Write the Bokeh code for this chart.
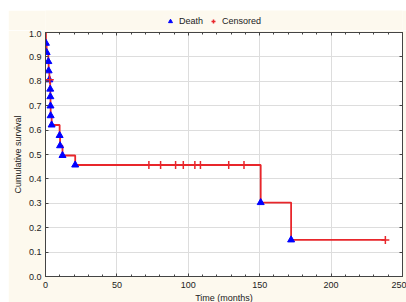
from bokeh.plotting import figure
from bokeh.layouts import column
from bokeh.models import (LinearAxis, Range1d, Legend, LegendItem, FixedTicker,
                          NumeralTickFormatter)
from bokeh.embed import file_html
from bokeh.resources import INLINE

# Kaplan-Meier data
death_t = [0.3, 0.8, 2.0, 2.2, 2.7, 3.3, 3.4, 3.5, 3.6, 4.3, 9.9, 10.2, 11.9, 20.8, 150.7, 172.0]
death_s = [0.956, 0.918, 0.881, 0.843, 0.806, 0.768, 0.737, 0.699, 0.659, 0.621, 0.578, 0.536, 0.496, 0.457, 0.303, 0.150]
cens_t = [3.0, 72.4, 80.6, 91.1, 96.5, 104.6, 108.5, 128.3, 139.0, 238.0]
cens_s = [0.806, 0.457, 0.457, 0.457, 0.457, 0.457, 0.457, 0.457, 0.457, 0.150]
end_t = 238.0

x_ticks = [0, 50, 100, 150, 200, 250]
y_ticks = [0.0, 0.1, 0.2, 0.3, 0.4, 0.5, 0.6, 0.7, 0.8, 0.9, 1.0]
legend_labels = ["Death", "Censored"]

BG = "#fdf9ee"
FONT = "Liberation Sans"
RED = "#e8262b"
BLUE = "#0000ff"
AX = "#444444"

step_x = [0.0] + death_t + [end_t]
step_y = [1.0] + death_s + [death_s[-1]]

# ---------- legend strip (its view range shows none of the data) ----------
lf = figure(width=398, height=20, output_backend="svg", toolbar_location=None,
            x_range=Range1d(1000, 1001), y_range=Range1d(1000, 1001), min_border=0)
lf.axis.visible = False
lf.grid.visible = False
lf.outline_line_color = None
lf.background_fill_color = BG
lf.border_fill_color = BG
ld = lf.scatter(death_t, death_s, marker="triangle", size=6, fill_color=BLUE, line_color=BLUE)
lc = lf.scatter(cens_t, cens_s, marker="cross", size=8, line_color=RED, line_width=1.5)
leg = Legend(items=[LegendItem(label=legend_labels[0], renderers=[ld]),
                    LegendItem(label=legend_labels[1], renderers=[lc])],
             orientation="horizontal", location=(118, 2),
             label_text_font=FONT, label_text_font_size="9px",
             label_text_color="#222222",
             background_fill_color=BG, border_line_alpha=0,
             glyph_width=10, glyph_height=10, spacing=5,
             label_standoff=4, padding=2, margin=0)
lf.add_layout(leg, "center")

# ---------- main chart ----------
p = figure(width=398, height=275, output_backend="svg", toolbar_location=None,
           x_range=Range1d(0, 250), y_range=Range1d(0, 1.0),
           min_border_left=37, min_border_right=4, min_border_top=2, min_border_bottom=25)
p.background_fill_color = "white"
p.border_fill_color = BG
p.outline_line_color = AX
p.outline_line_width = 1

p.step(step_x, step_y, mode="after", line_color=RED, line_width=1.8)
p.scatter(death_t, death_s, marker="triangle", size=7, fill_color=BLUE, line_color=BLUE)
p.scatter(cens_t, cens_s, marker="cross", size=8, line_color=RED, line_width=1.5)

for ax in (p.xaxis[0], p.yaxis[0]):
    ax.major_label_text_font = FONT
    ax.major_label_text_font_size = "9px"
    ax.major_label_text_color = "#222222"
    ax.axis_label_text_font = FONT
    ax.axis_label_text_font_size = "9px"
    ax.axis_label_text_font_style = "normal"
    ax.axis_label_text_color = "#222222"
    ax.axis_line_color = AX
    ax.major_tick_line_color = AX
    ax.minor_tick_line_color = AX
    ax.major_tick_in = 3
    ax.major_tick_out = 0
    ax.minor_tick_in = 2
    ax.minor_tick_out = 0

p.xaxis.ticker = FixedTicker(ticks=x_ticks, minor_ticks=list(range(0, 251, 10)))
p.yaxis.ticker = FixedTicker(ticks=y_ticks, minor_ticks=[])
p.yaxis.formatter = NumeralTickFormatter(format="0.0")
p.xaxis.axis_label = "Time (months)"
p.yaxis.axis_label = "Cumulative survival"
p.xaxis.major_label_standoff = 5
p.yaxis.major_label_standoff = 4
p.xaxis.axis_label_standoff = 2
p.yaxis.axis_label_standoff = 3

top = LinearAxis(ticker=FixedTicker(ticks=x_ticks, minor_ticks=list(range(0, 251, 10))),
                 major_label_overrides={t: "" for t in x_ticks},
                 major_label_standoff=0, axis_line_color=AX,
                 major_tick_in=3, major_tick_out=0, minor_tick_in=2, minor_tick_out=0,
                 major_tick_line_color=AX, minor_tick_line_color=AX)
right = LinearAxis(ticker=FixedTicker(ticks=y_ticks, minor_ticks=[]),
                   major_label_overrides={t: "" for t in y_ticks},
                   major_label_standoff=0, axis_line_color=AX,
                   major_tick_in=3, major_tick_out=0,
                   major_tick_line_color=AX)
p.add_layout(top, "above")
p.add_layout(right, "right")

p.xgrid.ticker = FixedTicker(ticks=x_ticks)
p.ygrid.ticker = FixedTicker(ticks=y_ticks)
p.xgrid.grid_line_color = "#dddddd"
p.ygrid.grid_line_color = "#dddddd"

layout = column(lf, p, spacing=0)
layout.margin = (10, 0, 0, 8)

open("out.html", "w").write(file_html(layout, INLINE))
